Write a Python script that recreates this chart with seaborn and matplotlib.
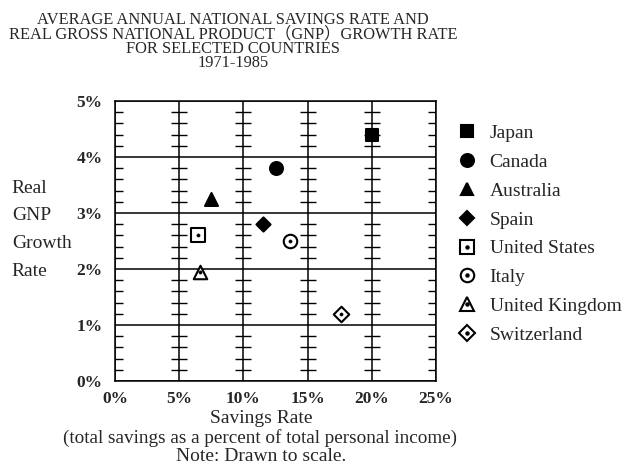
import numpy as np
import pandas as pd
import matplotlib
matplotlib.use('Agg')
import matplotlib.pyplot as plt
from matplotlib.legend_handler import HandlerTuple
from matplotlib.lines import Line2D
import seaborn as sns

# Data
countries = ['Japan', 'Canada', 'Australia', 'Spain', 'United States',
             'Italy', 'United Kingdom', 'Switzerland']
savings_rate = [20.0, 12.5, 7.5, 11.5, 6.5, 13.6, 6.6, 17.6]
gnp_growth = [4.4, 3.8, 3.25, 2.8, 2.6, 2.5, 1.95, 1.2]
markers = ['s', 'o', '^', 'D', 's', 'o', '^', 'D']
filled = [True, True, True, True, False, False, False, False]
sizes = [8.0, 9.3, 9.3, 7.2, 9.5, 9.7, 9.7, 7.9]

x_ticks = [0, 5, 10, 15, 20, 25]
y_ticks = [0, 1, 2, 3, 4, 5]

df = pd.DataFrame({'country': countries, 'savings': savings_rate, 'growth': gnp_growth})

sns.set_style('white')
serif = ['Liberation Serif', 'Noto Sans CJK SC']
plt.rcParams['font.family'] = serif

fig = plt.figure(figsize=(6.25, 4.75), dpi=100)
ax = fig.add_axes([0.184, 0.198, 0.5136, 0.5895])

# grid
for x in x_ticks:
    ax.axvline(x, color='black', lw=1.1)
for y in y_ticks:
    ax.axhline(y, color='black', lw=1.1)

# small tick marks along each vertical line
minor = [v / 5 for v in range(26) if v % 5 != 0]
for x in x_ticks:
    ax.hlines(minor, x - 0.62, x + 0.62, color='black', lw=1)

handles = []
for i, row in df.iterrows():
    fc = 'black' if filled[i] else 'white'
    sns.scatterplot(x=[row['savings']], y=[row['growth']], marker=markers[i],
                    s=sizes[i] ** 2, color=fc, edgecolor='black', linewidth=1.5,
                    ax=ax, zorder=5, legend=False)
    h = Line2D([], [], marker=markers[i], markersize=sizes[i], ls='none',
               markerfacecolor=fc, markeredgecolor='black', markeredgewidth=1.5)
    if not filled[i]:
        sns.scatterplot(x=[row['savings']], y=[row['growth']], marker='o', s=6,
                        color='black', edgecolor='black', ax=ax, zorder=6, legend=False)
        dot = Line2D([], [], marker='o', markersize=2.2, ls='none', color='black')
        h = (h, dot)
    handles.append(h)

ax.set_xlim(0, 25)
ax.set_ylim(0, 5)
ax.set_xticks(x_ticks)
ax.set_yticks(y_ticks)
ax.set_xticklabels([f'{t}%' for t in x_ticks], fontsize=12.5, fontweight='bold')
ax.set_yticklabels([f'{t}%' for t in y_ticks], fontsize=12.5, fontweight='bold')
ax.tick_params(axis='x', length=0, pad=7)
ax.tick_params(axis='y', length=0, pad=9)
ax.set_xlabel('')
ax.set_ylabel('')
for s in ax.spines.values():
    s.set_color('black')
    s.set_linewidth(1.1)

leg = fig.legend(handles, countries, loc='upper left', bbox_to_anchor=(0.7166, 0.758),
                 frameon=False, fontsize=14, borderpad=0,
                 handler_map={tuple: HandlerTuple(ndivide=1, pad=0)},
                 labelspacing=0.575, handletextpad=0.65, handlelength=1.0)

title = ('AVERAGE ANNUAL NATIONAL SAVINGS RATE AND\n'
         'REAL GROSS NATIONAL PRODUCT（GNP）GROWTH RATE\n'
         'FOR SELECTED COUNTRIES\n'
         '1971-1985')
fig.text(0.373, 0.974, title, ha='center', va='top', fontsize=11.8, linespacing=0.84, family=serif)

fig.text(0.019, 0.516, 'Real\nGNP\nGrowth\nRate', ha='left', va='center', fontsize=14,
         linespacing=1.84, family=serif)

fig.text(0.418, 0.118, 'Savings Rate', ha='center', va='center', fontsize=14, family=serif)
fig.text(0.416, 0.078, '(total savings as a percent of total personal income)', ha='center',
         va='center', fontsize=13.8, family=serif)
fig.text(0.418, 0.038, 'Note: Drawn to scale.', ha='center', va='center', fontsize=14, family=serif)

fig.savefig('out.png', dpi=100)
